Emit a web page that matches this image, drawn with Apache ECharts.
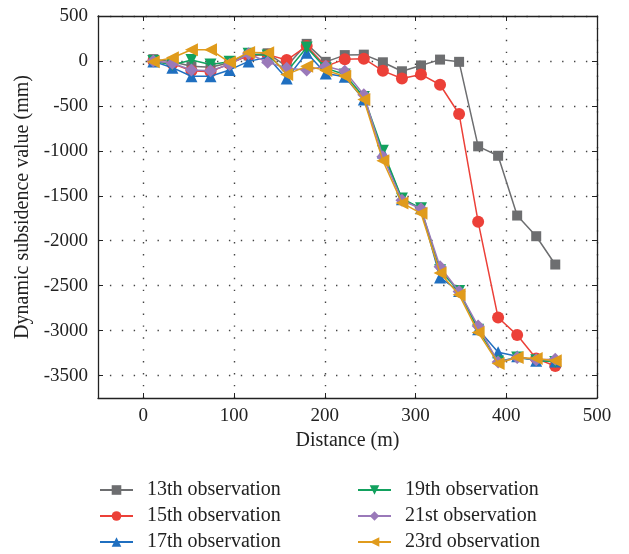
<!DOCTYPE html>
<html>
<head>
<meta charset="utf-8">
<script src="https://cdn.jsdelivr.net/npm/echarts@6/dist/echarts.min.js"></script>
<style>
  html, body { margin: 0; padding: 0; background: #fff; }
  #chart { width: 629px; height: 554px; }
</style>
</head>
<body>
<div id="chart"></div>
<script>
// distance of each observation point (m)
const distance = [11, 32, 53, 74, 95, 116, 137, 158, 180, 201, 222, 243, 264, 285, 306, 327, 348, 369, 391, 412, 433, 454];

const obs13 = [20, -10, -60, -70, -20, 60, 85, -60, 190, -10, 65, 70, -15, -115, -50, 15, -10, -950, -1055, -1720, -1950, -2265];
const obs15 = [0, -30, -110, -120, -30, 60, 70, 10, 165, -60, 20, 25, -110, -195, -150, -265, -590, -1790, -2855, -3050, -3310, -3395];
const obs17 = [-5, -75, -170, -170, -100, -5, 40, -195, 90, -140, -175, -430, -1020, -1540, -1640, -2410, -2560, -2985, -3240, -3285, -3335, -3345];
const obs19 = [0, -45, 10, -40, -10, 80, 60, -120, 150, -80, -150, -400, -1000, -1530, -1640, -2330, -2560, -2990, -3345, -3300, -3330, -3350];
const obs21 = [0, -25, -100, -110, -40, 80, -15, -80, -100, -60, -115, -375, -1065, -1550, -1645, -2290, -2565, -2950, -3350, -3300, -3325, -3320];
const obs23 = [-10, 35, 125, 125, -15, 95, 90, -150, -60, -105, -170, -430, -1110, -1580, -1695, -2360, -2600, -3020, -3365, -3300, -3310, -3335];

const yTicks = [500, 0, -500, -1000, -1500, -2000, -2500, -3000, -3500];
const xTicks = [0, 100, 200, 300, 400, 500];

const names = ['13th observation', '15th observation', '17th observation', '19th observation', '21st observation', '23rd observation'];
const colors = ['#6d6e70', '#ec4038', '#1f6fc0', '#12a15e', '#9a79b9', '#e09b1c'];
const symbols = ['rect', 'circle', 'triangle', 'triangle', 'diamond', 'triangle'];
const rotates = [0, 0, 0, 180, 0, 90];
const sizes = [10, 12, 12, 12, 13, 13];

const allData = [obs13, obs15, obs17, obs19, obs21, obs23];

const font = 'Liberation Serif';

const series = allData.map(function (vals, i) {
  return {
    name: names[i],
    type: 'line',
    data: vals.map(function (v, j) { return [distance[j], v]; }),
    symbol: symbols[i],
    symbolRotate: rotates[i],
    symbolSize: sizes[i],
    showAllSymbol: true,
    lineStyle: { color: colors[i], width: 1.5 },
    itemStyle: { color: colors[i] },
    emphasis: { disabled: true },
    z: 2 + i
  };
});

const chart = echarts.init(document.getElementById('chart'), null, { renderer: 'canvas' });

const tickStyle = { inside: true, length: 5, lineStyle: { color: '#222', width: 1 } };
const minorStyle = { show: true, splitNumber: 2, length: 3, lineStyle: { color: '#222', width: 1 } };
const gridDots = { show: true, lineStyle: { color: '#444', width: 1.4, type: [1.4, 10.5] } };

const legendText = { fontFamily: font, fontSize: 20, color: '#222', padding: [0, 0, 0, 9] };
const plain = function (v) { return String(v); };

chart.setOption({
  animation: false,
  backgroundColor: '#fff',
  textStyle: { fontFamily: font },
  grid: { left: 98, right: 32, top: 16, height: 382 },
  xAxis: [
    {
      type: 'value', min: -50, max: 500, interval: 100,
      position: 'bottom',
      name: 'Distance (m)', nameLocation: 'middle', nameGap: 31,
      nameTextStyle: { fontFamily: font, fontSize: 20, color: '#222' },
      axisLine: { onZero: false, lineStyle: { color: '#222', width: 1.3 } },
      axisTick: Object.assign({ customValues: xTicks }, tickStyle),
      minorTick: minorStyle,
      axisLabel: {
        customValues: xTicks, formatter: plain, fontFamily: font, fontSize: 19, color: '#222', margin: 9
      },
      splitLine: gridDots
    },
    {
      type: 'value', min: -50, max: 500, interval: 100,
      position: 'top',
      axisLine: { onZero: false, lineStyle: { color: '#222', width: 1.3 } },
      axisTick: Object.assign({ customValues: xTicks }, tickStyle),
      minorTick: minorStyle,
      axisLabel: { show: false },
      splitLine: { show: false }
    }
  ],
  yAxis: [
    {
      type: 'value', min: -3750, max: 500,
      position: 'left',
      name: 'Dynamic subsidence value (mm)', nameLocation: 'middle', nameGap: 65,
      nameTextStyle: { fontFamily: font, fontSize: 20, color: '#222' },
      axisLine: { onZero: false, lineStyle: { color: '#222', width: 1.3 } },
      axisTick: Object.assign({ customValues: yTicks }, tickStyle),
      minorTick: minorStyle,
      axisLabel: {
        customValues: yTicks, formatter: plain, fontFamily: font, fontSize: 19, color: '#222', margin: 10
      },
      splitLine: gridDots
    },
    {
      type: 'value', min: -3750, max: 500,
      position: 'right',
      axisLine: { show: true, onZero: false, lineStyle: { color: '#222', width: 1.3 } },
      axisTick: Object.assign({ customValues: yTicks }, tickStyle),
      minorTick: minorStyle,
      axisLabel: { show: false },
      splitLine: { show: false }
    }
  ],
  legend: [
    {
      data: names.slice(0, 3), orient: 'vertical', left: 94, top: 475, height: 90, width: 250,
      itemWidth: 33, itemHeight: 12, itemGap: 6,
      textStyle: legendText, selectedMode: false
    },
    {
      data: names.slice(3), orient: 'vertical', left: 352, top: 475, height: 90, width: 250,
      itemWidth: 33, itemHeight: 12, itemGap: 6,
      textStyle: legendText, selectedMode: false
    }
  ],
  series: series
});
</script>
</body>
</html>
